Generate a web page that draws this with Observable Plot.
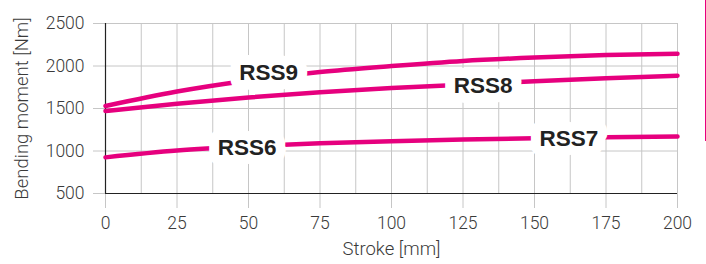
<!DOCTYPE html>
<html>
<head>
<meta charset="utf-8">
<script src="https://cdn.jsdelivr.net/npm/d3@7"></script>
<script src="https://cdn.jsdelivr.net/npm/@observablehq/plot@0.6"></script>
<style>
  html, body { margin: 0; padding: 0; background: #fff; }
  #wrap { position: relative; width: 706px; height: 264px; }
  #edge { position: absolute; left: 705px; top: 0; width: 1px; height: 141px; background: #e6007e; }
</style>
</head>
<body>
<div id="wrap"><div id="edge"></div></div>
<script>
const strokes = [0, 25, 50, 75, 100, 125, 150, 175, 200];
const rss9 = [1530, 1700, 1830, 1930, 2000, 2060, 2100, 2130, 2145];
const rss8 = [1470, 1555, 1630, 1690, 1740, 1780, 1820, 1855, 1885];
const rss6 = [925, 1005, 1055, 1090, 1115, 1135, 1150, 1162, 1170];
const seriesNames = ["RSS9", "RSS8", "RSS6"];
const labelNames = ["RSS9", "RSS8", "RSS6", "RSS7"];
const labelX = [57, 132, 49.5, 162];
const labelY = [1915, 1771, 1041, 1147];
const xTicks = [0, 25, 50, 75, 100, 125, 150, 175, 200];
const xGrid = d3.range(0, 200.01, 12.5);
const yTicks = [500, 1000, 1500, 2000, 2500];

const seriesVals = [rss9, rss8, rss6];
const lineData = seriesNames.flatMap((n, i) => strokes.map((s, j) => ({series: n, x: s, y: seriesVals[i][j]})));
const labels = labelNames.map((n, i) => ({name: n, x: labelX[i], y: labelY[i]}));

const MAG = "#e6007e";
const GRID = "#c6c6c6";
const TXT = "#3a3a3a";

const chart = Plot.plot({
  width: 706,
  height: 264,
  marginLeft: 105,
  marginRight: 29,
  marginTop: 23,
  marginBottom: 71,
  style: {fontFamily: "Roboto, 'Liberation Sans', Arial, sans-serif", fontSize: "17.5px", fontWeight: 300, color: TXT, background: "#fff"},
  x: {domain: [0, 200]},
  y: {domain: [500, 2500]},
  marks: [
    Plot.gridX(xGrid, {stroke: GRID, strokeOpacity: 1}),
    Plot.gridY(yTicks, {stroke: GRID, strokeOpacity: 1}),
    Plot.axisY(yTicks, {tickSize: 12, tickPadding: 9, stroke: GRID, fill: TXT, tickFormat: "d", label: null, fontSize: 17.5}),
    Plot.axisX(xTicks, {tickSize: 15, tickPadding: 8, stroke: GRID, fill: TXT, tickFormat: "d", label: null, fontSize: 17.5}),
    Plot.text(["Bending moment [Nm]"], {frameAnchor: "left", dx: -83, rotate: -90, textAnchor: "middle", lineAnchor: "middle", fill: TXT, fontSize: 18.5}),
    Plot.text(["Stroke [mm]"], {frameAnchor: "bottom", dy: 56, textAnchor: "middle", lineAnchor: "middle", fill: TXT, fontSize: 18.5}),
    Plot.ruleY([500], {stroke: "#222", strokeWidth: 1.2}),
    Plot.ruleX([0], {stroke: "#222", strokeWidth: 1.2}),
    Plot.line(lineData, {x: "x", y: "y", z: "series", stroke: MAG, strokeWidth: 4.5, curve: "monotone-x"}),
    Plot.text(labels, {x: "x", y: "y", text: "name", fill: "#222", stroke: "white", strokeWidth: 20, strokeLinejoin: "round", fontSize: 22.5, fontWeight: "bold", fontFamily: "'Liberation Sans', Arial, sans-serif", paintOrder: "stroke"})
  ]
});
document.getElementById("wrap").appendChild(chart);
</script>
</body>
</html>
